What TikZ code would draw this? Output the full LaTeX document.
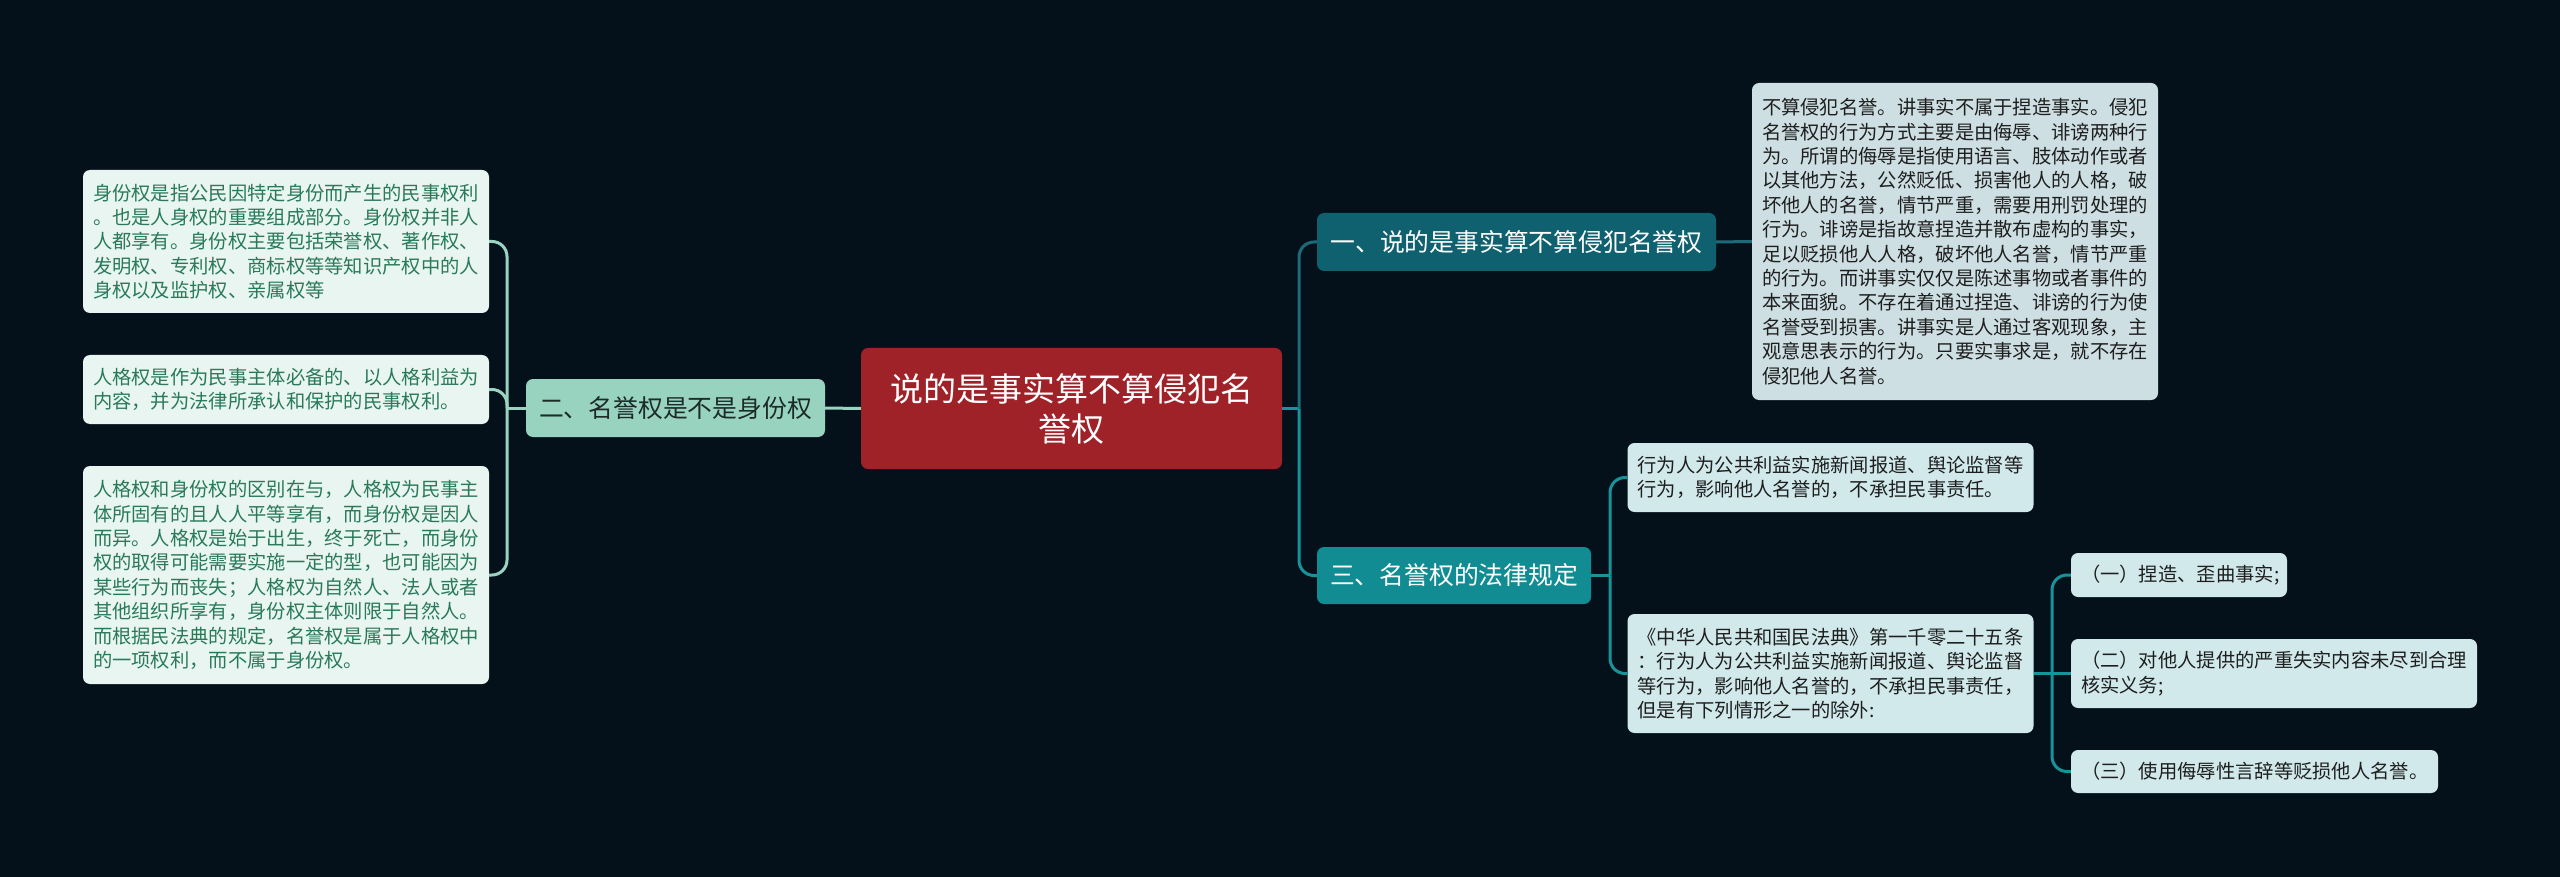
\documentclass[tikz,border=0pt]{standalone}
\usepackage{fontspec}
\setmainfont{Noto Sans CJK SC}
\definecolor{bg}{HTML}{04111A}
\definecolor{rootfill}{HTML}{9E2228}
\definecolor{onefill}{HTML}{10616F}
\definecolor{threefill}{HTML}{118C92}
\definecolor{twofill}{HTML}{98D3C0}
\definecolor{twotext}{HTML}{1C2B28}
\definecolor{lfill}{HTML}{E8F5F1}
\definecolor{ltext}{HTML}{2A7A5A}
\definecolor{rbigfill}{HTML}{CEDFE3}
\definecolor{rfill}{HTML}{D1E9EB}
\definecolor{rtext}{HTML}{1E1E1E}
\definecolor{lineL}{HTML}{9BD3C2}
\definecolor{lineOne}{HTML}{1D6B79}
\definecolor{lineThree}{HTML}{17949A}
\tikzset{
  box/.style={rectangle, rounded corners=7pt, inner ysep=0pt, anchor=center},
  rootbox/.style={box, fill=rootfill, text=white, inner xsep=13pt, text width=395pt, align=center,
    font=\fontsize{33}{40}\selectfont},
  topic/.style={box, inner xsep=13pt, align=center, font=\fontsize{24.8}{30}\selectfont},
  leaf/.style={box, inner xsep=10pt, text width=386pt, align=left, font=\fontsize{19.3}{24.4}\selectfont},
  leafL/.style={leaf, fill=lfill, text=ltext},
  leafR/.style={leaf, fill=rfill, text=rtext},
  conn/.style={line width=3pt, rounded corners=15pt},
}
\begin{document}
\begin{tikzpicture}[x=1pt,y=-1pt]
\fill[bg] (0,0) rectangle (2560,877);
\path[use as bounding box] (0,0) rectangle (2560,877);

% root
\node[rootbox, minimum height=121pt] (root) at (1071.5,408.5) {说的是事实算不算侵犯名\\誉权};

% topics
\node[topic, fill=twofill, text=twotext, minimum width=299pt, minimum height=58pt] (t2) at (675.5,408) {二、名誉权是不是身份权};
\node[topic, fill=onefill, text=white, minimum width=399pt, minimum height=58pt] (t1) at (1516.5,242) {一、说的是事实算不算侵犯名誉权};
\node[topic, fill=threefill, text=white, minimum width=274pt, minimum height=57pt] (t3) at (1454,575.5) {三、名誉权的法律规定};

% left leaves
\node[leafL, minimum height=143pt] (l1) at (286,241.5) {身份权是指公民因特定身份而产生的民事权利\\。也是人身权的重要组成部分。身份权并非人\\人都享有。身份权主要包括荣誉权、著作权、\\发明权、专利权、商标权等等知识产权中的人\\身权以及监护权、亲属权等};
\node[leafL, minimum height=69pt] (l2) at (286,389.5) {人格权是作为民事主体必备的、以人格利益为\\内容，并为法律所承认和保护的民事权利。};
\node[leafL, minimum height=218pt] (l3) at (286,575) {人格权和身份权的区别在与，人格权为民事主\\体所固有的且人人平等享有，而身份权是因人\\而异。人格权是始于出生，终于死亡，而身份\\权的取得可能需要实施一定的型，也可能因为\\某些行为而丧失；人格权为自然人、法人或者\\其他组织所享有，身份权主体则限于自然人。\\而根据民法典的规定，名誉权是属于人格权中\\的一项权利，而不属于身份权。};

% right leaves
\node[leaf, fill=rbigfill, text=rtext, minimum height=317pt] (r1) at (1955,241.5) {不算侵犯名誉。讲事实不属于捏造事实。侵犯\\名誉权的行为方式主要是由侮辱、诽谤两种行\\为。所谓的侮辱是指使用语言、肢体动作或者\\以其他方法，公然贬低、损害他人的人格，破\\坏他人的名誉，情节严重，需要用刑罚处理的\\行为。诽谤是指故意捏造并散布虚构的事实，\\足以贬损他人人格，破坏他人名誉，情节严重\\的行为。而讲事实仅仅是陈述事物或者事件的\\本来面貌。不存在着通过捏造、诽谤的行为使\\名誉受到损害。讲事实是人通过客观现象，主\\观意思表示的行为。只要实事求是，就不存在\\侵犯他人名誉。};
\node[leafR, minimum height=69pt] (r2) at (1830.5,477.5) {行为人为公共利益实施新闻报道、舆论监督等\\行为，影响他人名誉的，不承担民事责任。};
\node[leafR, minimum height=119pt] (r3) at (1830.5,673.5) {《中华人民共和国民法典》第一千零二十五条\\：行为人为公共利益实施新闻报道、舆论监督\\等行为，影响他人名誉的，不承担民事责任，\\但是有下列情形之一的除外:};

% sub leaves
\node[leafR, text width=196pt, minimum height=44pt] (s1) at (2179,575) {（一）捏造、歪曲事实;};
\node[leafR, minimum height=69pt] (s2) at (2274,673.5) {（二）对他人提供的严重失实内容未尽到合理\\核实义务;};
\node[leafR, text width=347pt, minimum height=43pt] (s3) at (2254.5,771.5) {（三）使用侮辱性言辞等贬损他人名誉。};

% junctions
\coordinate (jl) at (507,408);
\coordinate (jr) at (1299,408.5);
\coordinate (j3) at (1610,575.5);
\coordinate (js) at (2052,673.5);

% connectors left
\draw[conn, lineL] (t2.west) -- (jl);
\draw[conn, lineL] (root.west) -- (t2.east);
\draw[conn, lineL] (jl) |- (l1.east);
\draw[conn, lineL] (jl) |- (l2.east);
\draw[conn, lineL] (jl) |- (l3.east);

% connectors right
\draw[conn, lineThree] (root.east) -- (jr);
\draw[conn, lineOne] (jr) |- (t1.west);
\draw[conn, lineThree] (jr) |- (t3.west);
\draw[conn, lineOne] (t1.east) -- (r1.west);
\draw[conn, lineThree] (t3.east) -- (j3);
\draw[conn, lineThree] (j3) |- (r2.west);
\draw[conn, lineThree] (j3) |- (r3.west);
\draw[conn, lineThree] (r3.east) -- (js);
\draw[conn, lineThree] (js) |- (s1.west);
\draw[conn, lineThree] (js) -- (s2.west);
\draw[conn, lineThree] (js) |- (s3.west);
\end{tikzpicture}
\end{document}
